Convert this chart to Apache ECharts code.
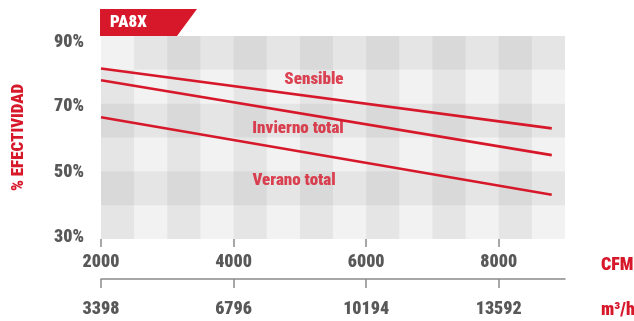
<!DOCTYPE html>
<html>
<head>
<meta charset="utf-8">
<script src="https://cdn.jsdelivr.net/npm/echarts@6/dist/echarts.min.js"></script>
<style>
  html, body { margin: 0; padding: 0; background: #ffffff; }
  #chart { width: 634px; height: 321px; }
</style>
</head>
<body>
<div id="chart"></div>
<script>
// Efficiency curves of the PA8X unit against airflow
const modelName = 'PA8X';
const cfmTicks = [2000, 4000, 6000, 8000];
const m3hTickLabels = ['3398', '6796', '10194', '13592'];
const percentTicks = [30, 50, 70, 90];
const airflowCfm = [2000, 8800];
const sensible = [80.4, 62.7];
const winterTotal = [76.9, 54.8];
const summerTotal = [66.0, 43.1];
const curveNames = ['Sensible', 'Invierno total', 'Verano total'];
const noteAnchors = [[5213, 77.0], [4973, 62.5], [4913, 47.1]];

const RED = '#d7182a';
const GREY = '#585858';
const FONT = 'Roboto, sans-serif';
const WEIGHT = '900 condensed';

const chart = echarts.init(document.getElementById('chart'), null, { renderer: 'canvas' });

function pairs(xs, ys) { return xs.map((x, i) => [x, ys[i]]); }

function curve(name, ys) {
  return {
    name: name,
    type: 'line',
    data: pairs(airflowCfm, ys),
    symbol: 'none',
    lineStyle: { color: RED, width: 2.6 },
    silent: true,
    z: 3
  };
}

const labelShift = { 90: [12, 0, 0, 0], 70: [6, 0, 0, 0], 50: [2, 0, 0, 0], 30: [0, 0, 4, 0] };

const option = {
  animation: false,
  grid: {
    left: 101, right: 69, top: 36, bottom: 82,
    show: true, backgroundColor: '#f2f2f2', borderWidth: 0
  },
  xAxis: [
    {
      type: 'value', position: 'bottom', min: 2000, max: 9000, interval: 2000,
      axisLine: { show: false, onZero: false },
      axisTick: { show: true, length: 8, lineStyle: { color: '#8a8a8a', width: 1.5 }, customValues: cfmTicks },
      axisLabel: {
        customValues: cfmTicks, margin: 14,
        color: GREY, fontFamily: FONT, fontWeight: WEIGHT, fontSize: 18,
        formatter: (v) => String(v)
      },
      splitLine: { show: false }
    },
    {
      type: 'value', position: 'bottom', offset: 40, min: 2000, max: 9000, interval: 2000,
      axisLine: { show: true, onZero: false, lineStyle: { color: '#8a8a8a', width: 1.5 } },
      axisTick: { show: true, length: 9, lineStyle: { color: '#8a8a8a', width: 1.5 }, customValues: cfmTicks },
      axisLabel: {
        customValues: cfmTicks, margin: 21,
        color: GREY, fontFamily: FONT, fontWeight: WEIGHT, fontSize: 18,
        formatter: (v) => m3hTickLabels[cfmTicks.indexOf(v)] || ''
      },
      splitLine: { show: false }
    },
    {
      // column shading every 500 CFM
      type: 'value', position: 'bottom', min: 2000, max: 9000, interval: 500,
      axisLine: { show: false }, axisTick: { show: false }, axisLabel: { show: false },
      splitLine: { show: false },
      splitArea: { show: true, areaStyle: { color: ['rgba(0,0,0,0.05)', 'rgba(0,0,0,0)'] } }
    }
  ],
  yAxis: {
    type: 'value', min: 30, max: 90, interval: 10,
    name: '% EFECTIVIDAD', nameLocation: 'middle', nameRotate: 90, nameGap: 74,
    nameTextStyle: { color: RED, fontFamily: FONT, fontWeight: WEIGHT, fontSize: 17 },
    axisLine: { show: false }, axisTick: { show: false },
    axisLabel: {
      customValues: percentTicks, margin: 17,
      color: GREY, fontFamily: FONT, fontWeight: WEIGHT, fontSize: 18,
      formatter: (v) => '{p' + v + '|' + v + '%}',
      rich: Object.fromEntries(percentTicks.map(v => ['p' + v, {
        color: GREY, fontFamily: FONT, fontWeight: WEIGHT, fontSize: 18, padding: labelShift[v]
      }]))
    },
    splitLine: { show: false },
    splitArea: { show: true, areaStyle: { color: ['rgba(0,0,0,0)', 'rgba(0,0,0,0.05)'] } }
  },
  series: [
    curve(curveNames[0], sensible),
    curve(curveNames[1], winterTotal),
    curve(curveNames[2], summerTotal),
    {
      type: 'scatter',
      silent: true,
      symbolSize: 0,
      z: 4,
      data: noteAnchors.map((c, i) => ({ value: c, name: curveNames[i] })),
      label: {
        show: true, position: 'inside', formatter: '{b}',
        color: RED, fontFamily: FONT, fontWeight: WEIGHT, fontSize: 17
      }
    }
  ],
  graphic: [
    {
      type: 'polygon',
      shape: { points: [[100, 9], [197, 9], [177, 36], [100, 36]] },
      style: { fill: RED },
      silent: true
    },
    {
      type: 'text', left: 110, top: 14,
      style: { text: modelName, fill: '#ffffff', font: "900 condensed 17px Roboto, sans-serif" }
    },
    {
      type: 'text', left: 601, top: 256,
      style: { text: 'CFM', fill: RED, font: "900 condensed 18px Roboto, sans-serif" }
    },
    {
      type: 'text', left: 601, top: 301,
      style: { text: 'm³/h', fill: RED, font: "900 condensed 18px Roboto, sans-serif" }
    }
  ]
};

chart.setOption(option);
</script>
</body>
</html>
